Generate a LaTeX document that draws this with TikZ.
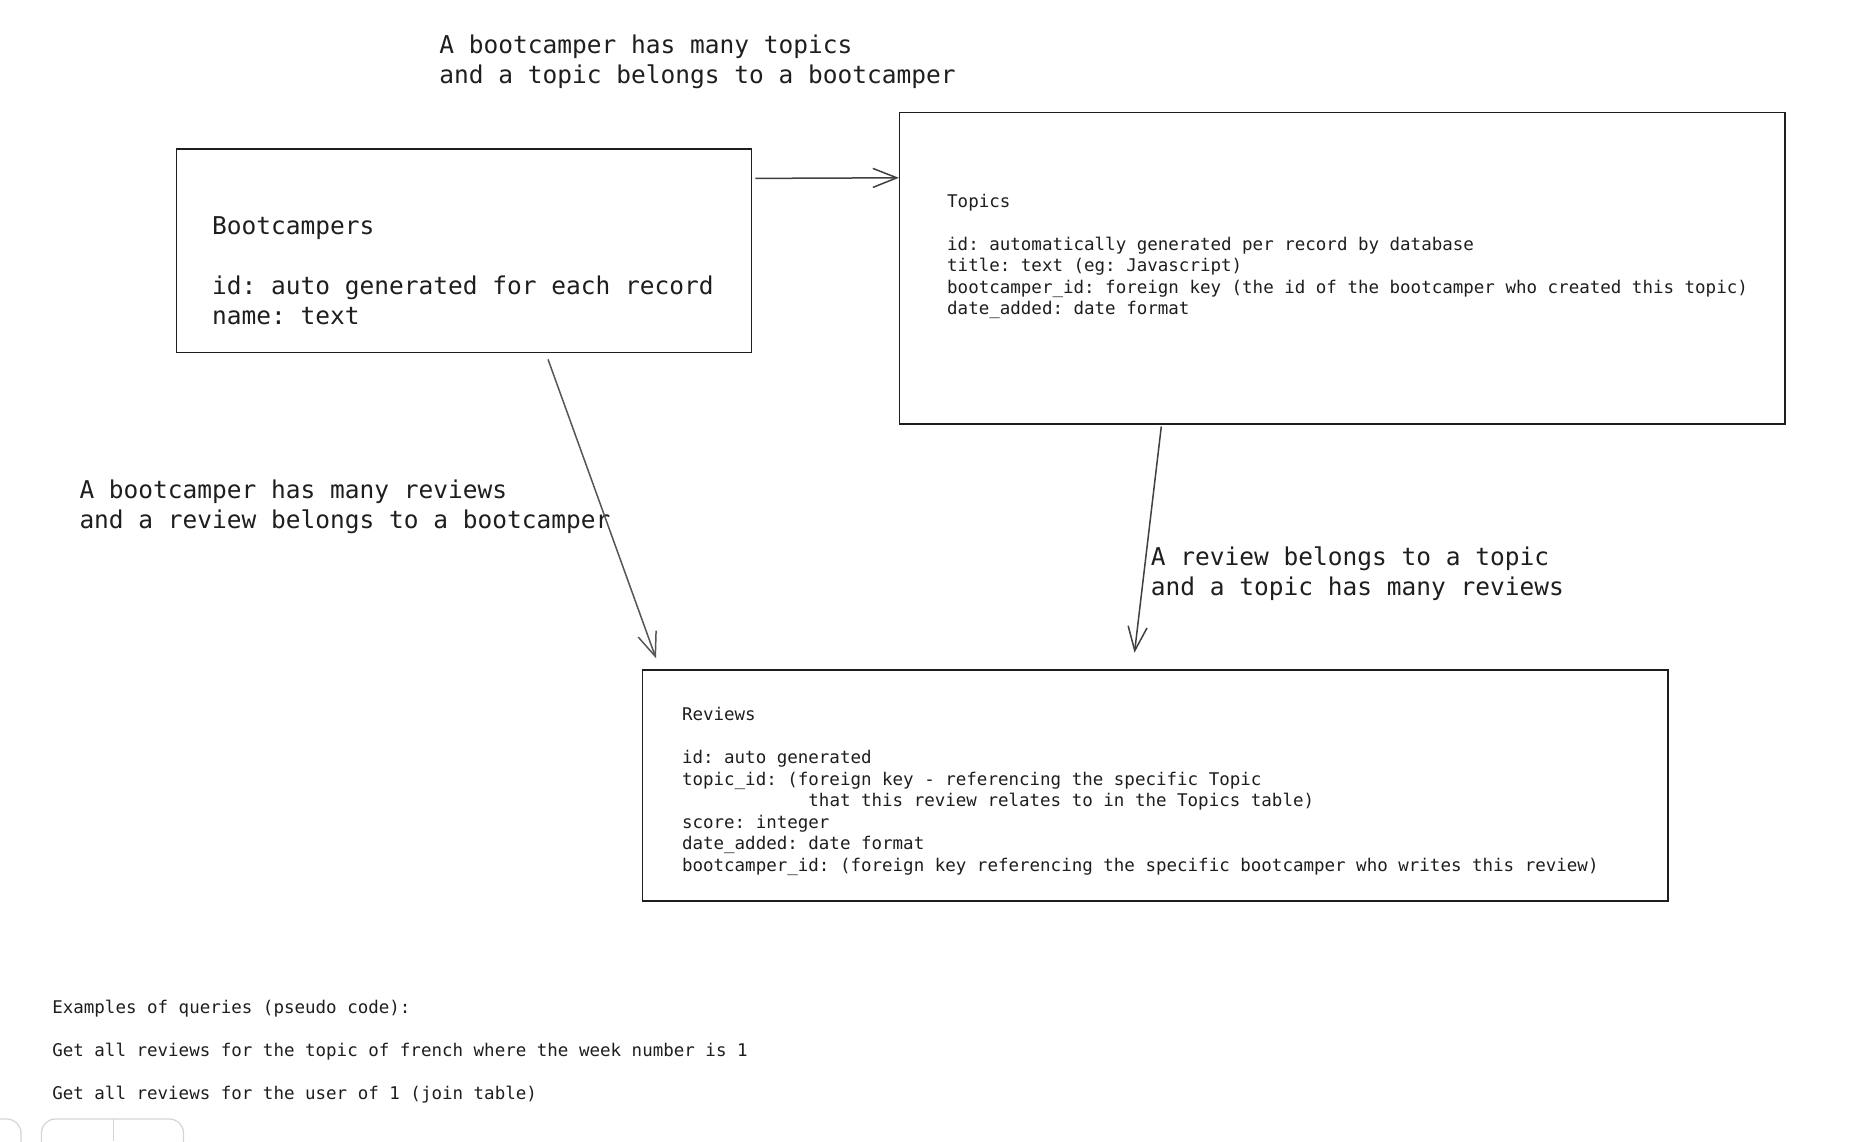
\documentclass[tikz,border=0pt]{standalone}
\usepackage{fontspec}
\newfontfamily\monofont{DejaVu Sans Mono}
\usetikzlibrary{arrows.meta,calc}
\definecolor{ink}{HTML}{1E1E1E}
\definecolor{uigray}{HTML}{D4D4D8}
\frenchspacing
\tikzset{
  tbl/.style={draw=ink, line width=1.4pt, inner sep=0pt, fill=none},
  bigtxt/.style={anchor=base west, inner sep=0pt, align=left, text=ink,
    font=\monofont\frenchspacing\fontsize{24.5}{30}\selectfont},
  smalltxt/.style={anchor=base west, inner sep=0pt, align=left, text=ink,
    font=\monofont\frenchspacing\fontsize{17.5}{21.5}\selectfont},
  conn/.style={draw=ink!85, line width=1.5pt,
    -{Straight Barb[length=24pt,width=19pt,line width=1.5pt]}},
  uibox/.style={draw=uigray, line width=1.2pt, rounded corners=14pt}
}
\begin{document}
\begin{tikzpicture}[x=1pt,y=-1pt]
\useasboundingbox (0,0) rectangle (1856,1141);
\clip (0,0) rectangle (1856,1141);
\fill[white] (0,0) rectangle (1856,1141);

% tables
\node[tbl, minimum width=575.3pt, minimum height=203.6pt] (bc) at (464.05,250.9) {};
\node[tbl, minimum width=885.4pt, minimum height=311.3pt] (tp) at (1342.3,268.15) {};
\node[tbl, minimum width=1025.1pt, minimum height=230.8pt] (rv) at (1155.25,785.4) {};

% table texts (anchored at the baseline of the last line)
\node[bigtxt] (bctext) at (211.9,324.1) {Bootcampers\\[30pt]id: auto generated for each record\\name: text};
\node[smalltxt] (tptext) at (947,314.5) {Topics\\[21.5pt]id: automatically generated per record by database\\title: text (eg: Javascript)\\bootcamper\_id: foreign key (the id of the bootcamper who created this topic)\\date\_added: date format};
\node[smalltxt] (rvtext) at (681.8,871) {Reviews\\[21.5pt]id: auto generated\\topic\_id: (foreign key - referencing the specific Topic\\\phantom{xxxxxxxxxxxx}that this review relates to in the Topics table)\\score: integer\\date\_added: date format\\bootcamper\_id: (foreign key referencing the specific bootcamper who writes this review)};

% relation labels
\node[bigtxt] (toplbl) at (439.2,83) {A bootcamper has many topics\\and a topic belongs to a bootcamper};
\node[bigtxt] (leftlbl) at (79.3,528) {A bootcamper has many reviews\\and a review belongs to a bootcamper};
\node[bigtxt] (rightlbl) at (1150.6,595) {A review belongs to a topic\\and a topic has many reviews};

% connectors
\draw[conn] ([xshift=3pt,yshift=-30pt]bc.north east) -- ([yshift=-66pt]tp.north west);
\draw[conn, draw=ink!75] ([xshift=84pt,yshift=-6pt]bc.south) -- ([xshift=14pt,yshift=11pt]rv.north west);
\draw[conn] ([xshift=-181pt,yshift=-2pt]tp.south) -- ([xshift=492.5pt,yshift=16.6pt]rv.north west);

% queries
\node[smalltxt] (queries) at (52.1,1099) {Examples of queries (pseudo code):\\[21.5pt]Get all reviews for the topic of french where the week number is 1\\[21.5pt]Get all reviews for the user of 1 (join table)};

% partially visible UI controls at the bottom edge
\draw[uibox] (-30,1119) rectangle (21,1170);
\draw[uibox] (41.4,1119) rectangle (183.5,1170);
\draw[uigray, line width=1.2pt] (113.6,1119) -- (113.6,1141);
\end{tikzpicture}
\end{document}
